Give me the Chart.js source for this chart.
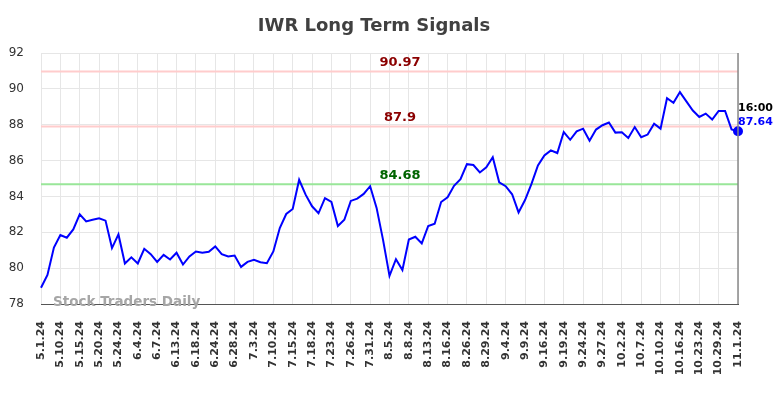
<!DOCTYPE html>
<html>
<head>
<meta charset="utf-8">
<script src="https://cdn.jsdelivr.net/npm/chart.js@4/dist/chart.umd.min.js"></script>
<style>
  body { margin: 0; background: #fff; }
  canvas { display: block; }
</style>
</head>
<body>
<canvas id="signalChart" width="784" height="398"></canvas>
<script>
// Trading dates (every 3rd one is shown on the axis)
const dates = [
  '5.1.24', '5.3.24', '5.8.24', '5.10.24', '5.13.24', '5.14.24', '5.15.24', '5.16.24', '5.17.24',
  '5.20.24', '5.21.24', '5.22.24', '5.24.24', '5.29.24', '5.31.24', '6.4.24', '6.5.24', '6.6.24',
  '6.7.24', '6.10.24', '6.12.24', '6.13.24', '6.14.24', '6.17.24', '6.18.24', '6.20.24', '6.21.24',
  '6.24.24', '6.25.24', '6.27.24', '6.28.24', '7.1.24', '7.2.24', '7.3.24', '7.8.24', '7.9.24',
  '7.10.24', '7.11.24', '7.12.24', '7.15.24', '7.16.24', '7.17.24', '7.18.24', '7.19.24', '7.22.24',
  '7.23.24', '7.24.24', '7.25.24', '7.26.24', '7.29.24', '7.30.24', '7.31.24', '8.1.24', '8.2.24',
  '8.5.24', '8.6.24', '8.7.24', '8.8.24', '8.9.24', '8.12.24', '8.13.24', '8.14.24', '8.15.24',
  '8.16.24', '8.20.24', '8.22.24', '8.26.24', '8.27.24', '8.28.24', '8.29.24', '8.30.24', '9.3.24',
  '9.4.24', '9.5.24', '9.6.24', '9.9.24', '9.11.24', '9.13.24', '9.16.24', '9.17.24', '9.18.24',
  '9.19.24', '9.20.24', '9.23.24', '9.24.24', '9.25.24', '9.26.24', '9.27.24', '9.30.24', '10.1.24',
  '10.2.24', '10.3.24', '10.4.24', '10.7.24', '10.8.24', '10.9.24', '10.10.24', '10.14.24', '10.15.24',
  '10.16.24', '10.18.24', '10.22.24', '10.23.24', '10.24.24', '10.28.24', '10.29.24', '10.30.24', '10.31.24',
  '11.1.24'
];

// Closing prices
const prices = [
  78.91, 79.62, 81.15, 81.85, 81.70, 82.16, 83.00, 82.61, 82.70, 82.78,
  82.65, 81.12, 81.88, 80.26, 80.60, 80.26, 81.08, 80.78, 80.35, 80.74,
  80.48, 80.86, 80.20, 80.65, 80.93, 80.86, 80.91, 81.21, 80.78, 80.65,
  80.70, 80.07, 80.35, 80.46, 80.33, 80.28, 80.93, 82.24, 83.02, 83.30,
  84.93, 84.10, 83.45, 83.06, 83.90, 83.69, 82.35, 82.70, 83.75, 83.88,
  84.14, 84.57, 83.36, 81.58, 79.57, 80.50, 79.90, 81.60, 81.75, 81.38,
  82.35, 82.48, 83.69, 83.95, 84.59, 84.96, 85.80, 85.75, 85.34, 85.63,
  86.19, 84.79, 84.57, 84.12, 83.11, 83.80, 84.70, 85.73, 86.29, 86.57,
  86.42, 87.59, 87.16, 87.63, 87.78, 87.11, 87.73, 87.97, 88.12, 87.56,
  87.58, 87.26, 87.87, 87.30, 87.45, 88.06, 87.78, 89.48, 89.22, 89.82,
  89.30, 88.79, 88.43, 88.62, 88.29, 88.77, 88.77, 87.74, 87.64
];

// Signal levels
const levelValues = [90.97, 87.9, 84.68];
const levelLabels = ['90.97', '87.9', '84.68'];
const levelLineColors = ['#ffcccc', '#ffcccc', '#99e699'];
const levelTextColors = ['#8b0000', '#8b0000', '#006400'];

const yMin = 78, yMax = 92, yStep = 2;
const lastTime = '16:00';

const lastIndex = prices.length - 1;

// Draws the signal lines, their labels, the right border, watermark and last price tag
const overlayPlugin = {
  id: 'overlay',
  beforeDatasetsDraw(chart) {
    const ctx = chart.ctx;
    const area = chart.chartArea;
    const y = chart.scales.y;
    ctx.save();
    levelValues.forEach(function(v, i) {
      const py = y.getPixelForValue(v);
      ctx.strokeStyle = levelLineColors[i];
      ctx.lineWidth = 2;
      ctx.beginPath();
      ctx.moveTo(area.left, py);
      ctx.lineTo(area.right, py);
      ctx.stroke();
      ctx.fillStyle = levelTextColors[i];
      ctx.font = 'bold 13px "DejaVu Sans"';
      ctx.textAlign = 'center';
      ctx.textBaseline = 'bottom';
      ctx.fillText(levelLabels[i], 400, py - 2);
    });
    ctx.restore();
  },
  afterDraw(chart) {
    const ctx = chart.ctx;
    const area = chart.chartArea;
    const x = chart.scales.x;
    const y = chart.scales.y;
    ctx.save();
    // right border
    ctx.strokeStyle = '#888';
    ctx.lineWidth = 1.5;
    ctx.beginPath();
    ctx.moveTo(area.right, area.top);
    ctx.lineTo(area.right, area.bottom);
    ctx.stroke();

    // title
    ctx.fillStyle = '#404040';
    ctx.font = 'bold 18px "DejaVu Sans"';
    ctx.textAlign = 'center';
    ctx.textBaseline = 'middle';
    ctx.fillText('IWR Long Term Signals', 374, 26);

    // watermark
    ctx.fillStyle = '#a6a6a6';
    ctx.font = 'bold 13.5px "DejaVu Sans"';
    ctx.textAlign = 'left';
    ctx.textBaseline = 'middle';
    ctx.fillText('Stock Traders Daily', 53, 302);

    // last price tag
    const px = x.getPixelForValue(lastIndex);
    const py = y.getPixelForValue(prices[lastIndex]);
    ctx.font = 'bold 11px "DejaVu Sans"';
    ctx.textBaseline = 'alphabetic';
    ctx.fillStyle = '#000';
    ctx.fillText(lastTime, px, py - 20);
    ctx.fillStyle = '#0000ff';
    ctx.fillText(prices[lastIndex].toFixed(2), px, py - 6);
    ctx.restore();
  }
};

const ctx = document.getElementById('signalChart').getContext('2d');
new Chart(ctx, {
  type: 'line',
  data: {
    labels: dates,
    datasets: [{
      data: prices,
      borderColor: '#0000ff',
      borderWidth: 2,
      tension: 0,
      fill: false,
      pointRadius: function(c) { return c.dataIndex === lastIndex ? 4 : 0; },
      pointBackgroundColor: '#0000ff',
      pointBorderColor: '#0000ff'
    }]
  },
  options: {
    responsive: false,
    animation: false,
    layout: { padding: { left: 0, right: 46, top: 53, bottom: 0 } },
    plugins: {
      legend: { display: false },
      title: { display: false },
      tooltip: { enabled: false }
    },
    scales: {
      x: {
        offset: false,
        grid: { color: '#e6e6e6', drawTicks: false },
        border: { color: '#555', width: 1 },
        ticks: {
          autoSkip: false,
          maxRotation: 90,
          minRotation: 90,
          padding: 17,
          color: '#333',
          font: { family: 'DejaVu Sans', size: 11, weight: 'bold' },
          callback: function(val, index) {
            return index % 3 === 0 ? dates[index] : null;
          }
        },
        afterFit: function(s) { s.height = 94; }
      },
      y: {
        min: yMin,
        max: yMax,
        grid: { color: '#e6e6e6', drawTicks: false },
        border: { display: false },
        ticks: {
          stepSize: yStep,
          padding: 17,
          color: '#333',
          font: { family: 'DejaVu Sans', size: 12 }
        },
        afterFit: function(s) { s.width = 41; }
      }
    }
  },
  plugins: [overlayPlugin]
});
</script>
</body>
</html>
